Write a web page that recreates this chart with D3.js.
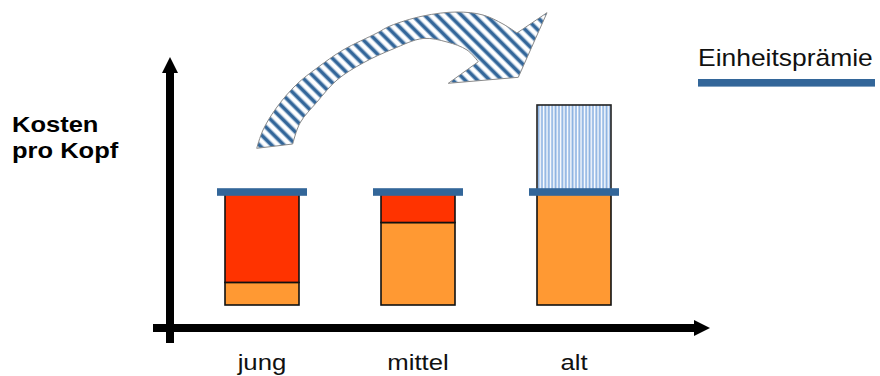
<!DOCTYPE html>
<html lang="de">
<head>
<meta charset="utf-8">
<script src="https://cdn.jsdelivr.net/npm/d3@7"></script>
<style>
  html, body { margin: 0; padding: 0; background: #ffffff; }
  svg { display: block; font-family: "Liberation Sans", Arial, Helvetica, sans-serif; }
</style>
</head>
<body>
<svg id="chart" width="880" height="376"></svg>
<script>
// Altersgruppen und Kosten pro Kopf (Index: Einheitsprämie = 100)
const categories = ["jung", "mittel", "alt"];
const costs = [20, 73, 177];
const premium = 100;
const legendLabel = "Einheitsprämie";
const yAxisLabel = ["Kosten", "pro Kopf"];

// Umrisse des Transferpfeils, relativ zum Prämienbalken der ersten Gruppe
const arrowOuter = [[-5.3,-43.7],[1,-62],[15,-85],[35,-108],[55,-124],[81,-142],[115,-159],[128,-166],[161,-176],[195,-180],[221,-177],[241,-168],[255,-159]];
const arrowHead = [[285,-179.3],[256.3,-114.7],[186.3,-108.7]];
const arrowInner = [[216.3,-130.3],[205,-142],[185,-150],[161,-153.5],[131,-143],[101,-129],[75,-112],[55,-90],[38,-69],[30.7,-48]];

const colors = {
  own: "#FF9933",
  surplus: "#FF3300",
  premium: "#336699",
  transfer: "#8DB3E2"
};

const svg = d3.select("#chart");
const defs = svg.append("defs");

// Senkrechte Schraffur für den Zuschuss der alten Gruppe
const vPat = defs.append("pattern")
  .attr("id", "vstripes").attr("patternUnits", "userSpaceOnUse")
  .attr("width", 3.4).attr("height", 10);
vPat.append("rect").attr("width", 3.4).attr("height", 10).attr("fill", "#ffffff");
vPat.append("rect").attr("x", 0.4).attr("width", 1.9).attr("height", 10).attr("fill", colors.transfer);

// Diagonale Schraffur für den Pfeil
const dPat = defs.append("pattern")
  .attr("id", "dstripes").attr("patternUnits", "userSpaceOnUse")
  .attr("width", 8.7).attr("height", 20)
  .attr("patternTransform", "rotate(-45)");
dPat.append("rect").attr("width", 8.7).attr("height", 20).attr("fill", "#ffffff");
dPat.append("rect").attr("x", 0).attr("width", 5).attr("height", 20).attr("fill", "#a9c1d9");
dPat.append("rect").attr("x", 1).attr("width", 3).attr("height", 20).attr("fill", colors.premium);

// Pfeilspitzen der Achsen
function arrowMarker(id) {
  defs.append("marker")
    .attr("id", id).attr("viewBox", "0 0 16 16")
    .attr("refX", 1).attr("refY", 8)
    .attr("markerWidth", 16).attr("markerHeight", 16)
    .attr("markerUnits", "userSpaceOnUse")
    .attr("orient", "auto")
    .append("path").attr("d", "M0,0 L16,8 L0,16 Z").attr("fill", "#000");
}
arrowMarker("axisArrow");

// Skalen
const x = d3.scalePoint().domain(categories).range([262, 574]);
const y = d3.scaleLinear().domain([0, premium]).range([305, 192]);
const barW = 74;
const premW = 90;
const premH = 7.6;

const data = categories.map((c, i) => ({ cat: c, cost: costs[i] }));

// Achsen
const axisX0 = 153, axisX1 = 695, axisY = 328;
const axisYx = 170, axisYbottom = 343, axisYtop = 72;
svg.append("line")
  .attr("x1", axisX0).attr("x2", axisX1).attr("y1", axisY).attr("y2", axisY)
  .attr("stroke", "#000").attr("stroke-width", 8)
  .attr("marker-end", "url(#axisArrow)");
svg.append("line")
  .attr("x1", axisYx).attr("x2", axisYx).attr("y1", axisYbottom).attr("y2", axisYtop)
  .attr("stroke", "#000").attr("stroke-width", 8)
  .attr("marker-end", "url(#axisArrow)");

const bars = svg.append("g");

// Zuschuss oberhalb der Einheitsprämie
bars.selectAll("rect.transfer")
  .data(data.filter(d => d.cost > premium))
  .join("rect").attr("class", "transfer")
  .attr("x", d => x(d.cat) - barW / 2)
  .attr("width", barW)
  .attr("y", d => y(d.cost))
  .attr("height", d => y(premium) - y(d.cost))
  .attr("fill", "url(#vstripes)")
  .attr("stroke", "#222").attr("stroke-width", 1.6);

// Eigene Kosten
bars.selectAll("rect.own")
  .data(data)
  .join("rect").attr("class", "own")
  .attr("x", d => x(d.cat) - barW / 2)
  .attr("width", barW)
  .attr("y", d => y(Math.min(d.cost, premium)))
  .attr("height", d => y(0) - y(Math.min(d.cost, premium)))
  .attr("fill", colors.own)
  .attr("stroke", "#111").attr("stroke-width", 1.6);

// Überschuss bis zur Einheitsprämie
bars.selectAll("rect.surplus")
  .data(data.filter(d => d.cost < premium))
  .join("rect").attr("class", "surplus")
  .attr("x", d => x(d.cat) - barW / 2)
  .attr("width", barW)
  .attr("y", y(premium))
  .attr("height", d => y(d.cost) - y(premium))
  .attr("fill", colors.surplus)
  .attr("stroke", "#111").attr("stroke-width", 1.6);

// Einheitsprämie je Gruppe
bars.selectAll("rect.premium")
  .data(data)
  .join("rect").attr("class", "premium")
  .attr("x", d => x(d.cat) - premW / 2)
  .attr("width", premW)
  .attr("y", y(premium) - premH / 2)
  .attr("height", premH)
  .attr("fill", colors.premium);

// Transferpfeil von jung zu alt
const ox = x(categories[0]), oy = y(premium);
const shift = p => [ox + p[0], oy + p[1]];
const curve = d3.line().curve(d3.curveCatmullRom.alpha(0.5));
const outerD = curve(arrowOuter.map(shift));
const innerD = curve(arrowInner.map(shift)).replace(/^M/, "L");
const headD = arrowHead.map(shift).map(p => `L${p[0]},${p[1]}`).join("");
svg.append("path")
  .attr("d", outerD + headD + innerD + "Z")
  .attr("fill", "url(#dstripes)")
  .attr("stroke", "#8a8a8a").attr("stroke-width", 1);

// Kategorienbeschriftung
svg.append("g").selectAll("text")
  .data(categories)
  .join("text")
  .attr("transform", d => `translate(${x(d)},370) scale(1.12,1)`)
  .attr("text-anchor", "middle")
  .attr("font-size", 23)
  .attr("fill", "#111")
  .text(d => d);

// Achsentitel
svg.append("g").selectAll("text")
  .data(yAxisLabel)
  .join("text")
  .attr("transform", (d, i) => `translate(12,${132 + i * 26}) scale(1.16,1)`)
  .attr("font-size", 22)
  .attr("font-weight", "bold")
  .attr("fill", "#000")
  .text(d => d);

// Legende
const legend = svg.append("g");
legend.append("text")
  .attr("transform", "translate(698,65.5) scale(1.125,1)")
  .attr("font-size", 23.5)
  .attr("fill", "#111")
  .text(legendLabel);
legend.append("rect")
  .attr("x", 698).attr("y", 79).attr("width", 177).attr("height", 7.6)
  .attr("fill", colors.premium);
</script>
</body>
</html>
